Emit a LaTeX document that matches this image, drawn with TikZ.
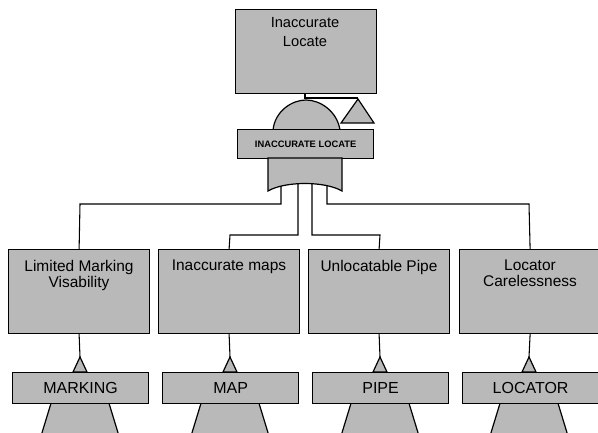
\documentclass[tikz,border=0pt]{standalone}
\usepackage{fontspec}
\setmainfont{Liberation Sans}
\usetikzlibrary{calc}
\begin{document}
\begin{tikzpicture}[x=0.75pt,y=-0.75pt,
  evbox/.style={draw=black,line width=0.9pt,fill=gray!55,inner sep=0pt},
  gshape/.style={draw=black,line width=0.9pt,fill=gray!55},
  lbl/.style={draw=black,line width=0.9pt,fill=gray!55,inner sep=0pt,font=\fontsize{12}{13}\selectfont},
  txt/.style={font=\fontsize{11.6}{12}\selectfont,align=center,inner sep=0pt},
  wire/.style={draw=black,line width=0.8pt}]
\useasboundingbox (0,0) rectangle (598,432);
% top event
\node[evbox,minimum width=105.75pt,minimum height=63pt,anchor=north west] (top) at (235,9) {};
\node[txt,anchor=north,font=\fontsize{11}{14.5}\selectfont] (toptxt) at (305,17) {Inaccurate\\Locate};
% transfer triangle
\coordinate (tj) at (305,98);
\draw[gshape] (358,99) -- (374,123) -- (341,123) -- cycle;
\coordinate (tapex) at (358,98);
\draw[wire] (top.south -| tj) -- (tj) -- (tapex);
% AND dome
\draw[gshape] (273,130) .. controls (275,111) and (292,100) .. (306,100) .. controls (320,100) and (337,111) .. (340,130) -- cycle;
% gate label box
\node[evbox,minimum width=102pt,minimum height=21.75pt,anchor=north west,
  font=\fontsize{7}{8}\selectfont\bfseries] (glbl) at (237,129) {INACCURATE LOCATE};
% OR-like base
\draw[gshape] (268,158) -- (342,158) -- (342,191)
  .. controls (325,181) and (285,181) .. (268,191) -- cycle;
\coordinate (o1) at (281,186);
\coordinate (o2) at (298,184);
\coordinate (o3) at (312,184);
\coordinate (o4) at (327,186);
% level-2 boxes
\foreach \n/\x/\t in {b1/8/{Limited Marking\\Visability},b2/158/{Inaccurate maps},b3/308/{Unlocatable Pipe},b4/459/{Locator\\Carelessness}}{
  \node[evbox,minimum width=105.75pt,minimum height=63pt,anchor=north west] (\n) at (\x,249) {};
  \node[txt,anchor=north] (\n t) at ($(\x,249)+(71,11)$) {\t};
}
% connectors
\draw[wire] (o1) |- (80,204) -- (b1.north);
\draw[wire] (o2) |- (230,235) -- (b2.north);
\draw[wire] (o3) |- (380,235) -- (b3.north);
\draw[wire] (o4) |- (529,204) -- (b4.north);
% basic event labels
\begin{scope}
\clip (0,0) rectangle (598,432);
\foreach \c in {80,230,380,529}{
  \draw[gshape] (\c-28,400) -- (\c+28,400) -- (\c+39,436) -- (\c-39,436) -- cycle;
}
\end{scope}
\foreach \n/\x/\c/\t in {l1/12/80/MARKING,l2/162/230/MAP,l3/312/380/PIPE,l4/462/529/LOCATOR}{
  \draw[gshape] (\c,357) -- (\c+7,372) -- (\c-7,372) -- cycle;
  \node[lbl,minimum width=102pt,minimum height=23.25pt,anchor=north west] (\n) at (\x,372) {\t};
}
\draw[wire] (b1.south) -- (80,357);
\draw[wire] (b2.south) -- (230,357);
\draw[wire] (b3.south) -- (380,357);
\draw[wire] (b4.south) -- (529,357);
\end{tikzpicture}
\end{document}
